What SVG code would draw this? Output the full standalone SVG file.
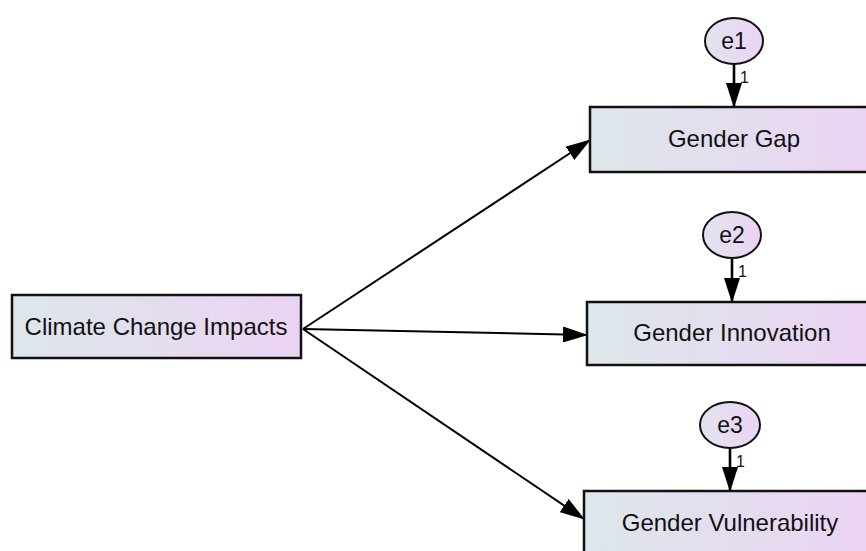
<svg xmlns="http://www.w3.org/2000/svg" width="866" height="551" viewBox="0 0 866 551">
<defs>
<linearGradient id="gBox" x1="0" y1="0" x2="1" y2="0">
<stop offset="0" stop-color="#dde7ea"/>
<stop offset="1" stop-color="#ebd3f3"/>
</linearGradient>
<linearGradient id="gEl" x1="0" y1="0" x2="1" y2="0">
<stop offset="0" stop-color="#e3e3ef"/>
<stop offset="1" stop-color="#ebd3f3"/>
</linearGradient>
<marker id="arr" markerUnits="userSpaceOnUse" markerWidth="25" markerHeight="16" refX="24" refY="8" orient="auto" viewBox="0 0 25 16">
<path d="M0,0 L25,8 L0,16 Z" fill="#000"/>
</marker>
<style>
.box{fill:url(#gBox);stroke:#111;stroke-width:2.5}
.el{fill:url(#gEl);stroke:#111;stroke-width:2}
.t{font-family:"Liberation Sans",Arial,sans-serif;font-size:24px;fill:#111;text-anchor:middle}
.e{font-family:"Liberation Sans",Arial,sans-serif;font-size:23px;fill:#111;text-anchor:middle}
.one{font-family:"Liberation Sans",Arial,sans-serif;font-size:16px;fill:#111}
.c{stroke:#000;stroke-width:2;fill:none;marker-end:url(#arr)}
.v{stroke-width:2.6}
</style>
</defs>
<rect width="866" height="551" fill="#fff"/>
<g id="connectors">
<line class="c" x1="303" y1="329" x2="590" y2="140"/>
<line class="c" x1="303" y1="329" x2="587" y2="335"/>
<line class="c" x1="303" y1="329" x2="584" y2="519"/>
<line class="c v" x1="734" y1="64" x2="734" y2="107"/>
<line class="c v" x1="732" y1="258" x2="732" y2="302"/>
<line class="c v" x1="730" y1="448" x2="730" y2="491"/>
<text class="one" x="740" y="83">1</text>
<text class="one" x="738" y="277">1</text>
<text class="one" x="736" y="467">1</text>
</g>
<g id="climate">
<rect class="box" x="12" y="295" width="289" height="63"/>
<text class="t" x="156" y="335">Climate Change Impacts</text>
</g>
<g id="gap">
<rect class="box" x="590" y="107" width="290" height="65"/>
<text class="t" x="734" y="147">Gender Gap</text>
</g>
<g id="innovation">
<rect class="box" x="587" y="302" width="290" height="63"/>
<text class="t" x="732" y="341">Gender Innovation</text>
</g>
<g id="vulnerability">
<rect class="box" x="584" y="491" width="290" height="65"/>
<text class="t" x="730" y="531">Gender Vulnerability</text>
</g>
<g id="e1">
<ellipse class="el" cx="734" cy="41" rx="29" ry="23"/>
<text class="e" x="734" y="49">e1</text>
</g>
<g id="e2">
<ellipse class="el" cx="732" cy="235" rx="29" ry="23"/>
<text class="e" x="732" y="243">e2</text>
</g>
<g id="e3">
<ellipse class="el" cx="730" cy="425" rx="30" ry="23"/>
<text class="e" x="730" y="433">e3</text>
</g>
</svg>
